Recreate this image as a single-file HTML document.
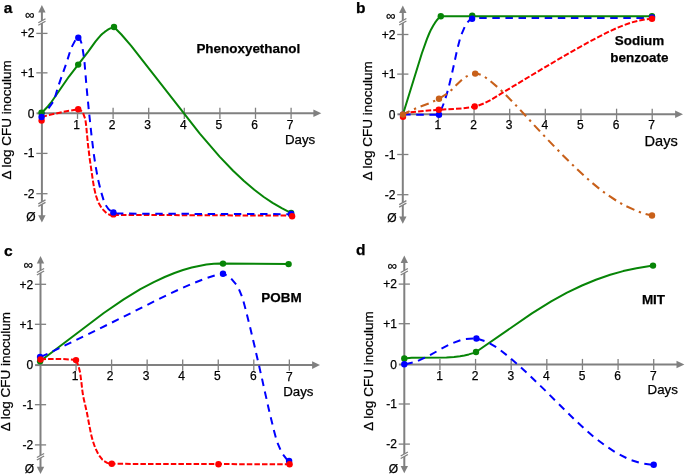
<!DOCTYPE html>
<html><head><meta charset="utf-8"><title>Figure</title>
<style>
html,body{margin:0;padding:0;background:#fff;}
svg{display:block;}
text{font-family:"Liberation Sans",Arial,Helvetica,sans-serif;fill:#000;stroke:#000;stroke-width:0.25px;}
.t{font-size:12px;}
.i{font-size:13px;}
.d{font-size:13.3px;}
.y{font-size:13.5px;}
.h{font-size:13.45px;font-weight:bold;}
.p{font-size:15.5px;font-weight:bold;}
</style></head><body>
<svg width="685" height="474" viewBox="0 0 685 474">
<rect width="685" height="474" fill="#fff"/>
<text x="3.7" y="13.3" class="p">a</text>
<line x1="41.9" y1="10.1" x2="41.9" y2="217.5" stroke="#808080" stroke-width="2.0"/>
<polygon points="41.9,5.1 38.199999999999996,12.399999999999999 45.6,12.399999999999999" fill="#808080"/>
<polygon points="41.9,222.5 38.199999999999996,215.2 45.6,215.2" fill="#808080"/>
<line x1="41.9" y1="113.3" x2="316.3" y2="113.3" stroke="#808080" stroke-width="2.0"/>
<polygon points="321.3,113.3 313.40000000000003,109.5 313.40000000000003,117.1" fill="#808080"/>
<rect x="39.9" y="20.799999999999997" width="4" height="2.4" fill="#fff" transform="rotate(-30 41.9 21.999999999999996)"/>
<line x1="38.3" y1="22.749999999999996" x2="45.5" y2="18.749999999999996" stroke="#808080" stroke-width="1.3"/>
<line x1="38.3" y1="25.249999999999996" x2="45.5" y2="21.249999999999996" stroke="#808080" stroke-width="1.3"/>
<rect x="39.9" y="201.90000000000003" width="4" height="2.4" fill="#fff" transform="rotate(-30 41.9 203.10000000000002)"/>
<line x1="38.3" y1="203.85000000000002" x2="45.5" y2="199.85000000000002" stroke="#808080" stroke-width="1.3"/>
<line x1="38.3" y1="206.35000000000002" x2="45.5" y2="202.35000000000002" stroke="#808080" stroke-width="1.3"/>
<line x1="36.3" y1="33.4" x2="47.5" y2="33.4" stroke="#808080" stroke-width="1.3"/>
<text x="34.5" y="37.4" text-anchor="end" class="t">+2</text>
<line x1="36.3" y1="72.85" x2="47.5" y2="72.85" stroke="#808080" stroke-width="1.3"/>
<text x="34.5" y="76.85" text-anchor="end" class="t">+1</text>
<line x1="36.5" y1="113.3" x2="41.9" y2="113.3" stroke="#808080" stroke-width="2.0"/>
<text x="34.5" y="117.8" text-anchor="end" class="t">0</text>
<line x1="36.3" y1="153.4" x2="47.5" y2="153.4" stroke="#808080" stroke-width="1.3"/>
<text x="34.5" y="157.4" text-anchor="end" class="t">-1</text>
<line x1="36.3" y1="193.7" x2="47.5" y2="193.7" stroke="#808080" stroke-width="1.3"/>
<text x="34.5" y="197.7" text-anchor="end" class="t">-2</text>
<line x1="77.5" y1="107.7" x2="77.5" y2="118.89999999999999" stroke="#808080" stroke-width="1.3"/>
<text x="76.50" y="129.00" text-anchor="middle" class="t">1</text>
<line x1="113.1" y1="107.7" x2="113.1" y2="118.89999999999999" stroke="#808080" stroke-width="1.3"/>
<text x="112.10" y="129.00" text-anchor="middle" class="t">2</text>
<line x1="148.70000000000002" y1="107.7" x2="148.70000000000002" y2="118.89999999999999" stroke="#808080" stroke-width="1.3"/>
<text x="147.70" y="129.00" text-anchor="middle" class="t">3</text>
<line x1="184.3" y1="107.7" x2="184.3" y2="118.89999999999999" stroke="#808080" stroke-width="1.3"/>
<text x="183.30" y="129.00" text-anchor="middle" class="t">4</text>
<line x1="219.9" y1="107.7" x2="219.9" y2="118.89999999999999" stroke="#808080" stroke-width="1.3"/>
<text x="218.90" y="129.00" text-anchor="middle" class="t">5</text>
<line x1="255.50000000000003" y1="107.7" x2="255.50000000000003" y2="118.89999999999999" stroke="#808080" stroke-width="1.3"/>
<text x="254.50" y="129.00" text-anchor="middle" class="t">6</text>
<line x1="291.1" y1="107.7" x2="291.1" y2="118.89999999999999" stroke="#808080" stroke-width="1.3"/>
<text x="290.10" y="129.00" text-anchor="middle" class="t">7</text>
<text x="300.1" y="144.3" text-anchor="middle" class="d" style="font-size:13.3px">Days</text>
<text x="29.9" y="19.1" text-anchor="middle" class="i">∞</text>
<text x="30.9" y="220.7" text-anchor="middle" class="t">Ø</text>
<text transform="translate(10.8,119.8) rotate(-90)" text-anchor="middle" class="y">Δ log CFU inoculum</text>
<text x="248.3" y="52.5" text-anchor="middle" class="h">Phenoxyethanol</text>
<path d="M41.5,117.0 L46.9,115.6 M48.9,115.1 L54.3,113.8 M56.3,113.4 L61.7,112.2 M63.7,111.8 L69.1,110.8 M71.2,110.4 L76.6,109.5 M78.2,109.3 L79.7,109.9 L81.0,110.7 L81.8,111.5 M83.1,113.1 L85.0,118.3 M85.5,120.3 L86.2,125.8 M86.4,127.9 L86.9,133.4 M87.1,135.4 L87.6,141.0 M87.8,143.0 L88.4,148.5 M88.7,150.5 L89.4,156.0 M89.6,158.1 L90.4,163.6 M90.7,165.6 L91.5,171.1 M91.8,173.1 L92.6,178.6 M92.9,180.6 L93.8,186.1 M94.2,188.1 L95.4,193.6 M95.9,195.5 L97.7,200.8 M98.5,202.7 L101.3,207.5 M102.5,209.1 L106.4,213.0 M108.2,214.1 L110.2,215.0 L111.8,215.2 L113.4,215.1 M113.4,214.9 L118.9,214.9 M121.0,214.9 L126.5,215.0 M128.6,215.0 L134.1,215.0 M136.2,215.0 L141.7,215.0 M143.8,215.0 L149.3,215.0 M151.4,215.0 L156.9,215.1 M159.0,215.1 L164.5,215.1 M166.6,215.1 L172.1,215.1 M174.2,215.1 L179.7,215.2 M181.8,215.2 L187.3,215.2 M189.4,215.2 L194.9,215.2 M197.0,215.2 L202.5,215.2 M204.6,215.3 L210.1,215.3 M212.2,215.3 L217.7,215.3 M219.8,215.3 L225.3,215.3 M227.4,215.3 L232.9,215.4 M235.0,215.4 L240.5,215.4 M242.6,215.4 L248.1,215.4 M250.2,215.4 L255.7,215.5 M257.8,215.5 L263.3,215.5 M265.4,215.5 L270.9,215.5 M273.0,215.5 L278.5,215.5 M280.6,215.6 L286.1,215.6 M288.2,215.6 L292.0,215.6" fill="none" stroke="#FF0000" stroke-width="2.0" stroke-linejoin="round"/>
<path d="M41.5,113.0 L44.7,109.8 L47.8,106.5 L51.6,101.8 L68.8,76.8 L88.2,51.6 L95.4,41.6 L98.3,38.1 L100.3,35.8 L102.4,33.8 L104.7,31.9 L107.1,30.2 L109.7,28.7 L111.1,28.1 L112.5,27.5 L114.0,27.0 L121.4,34.5 L131.2,45.9 L199.8,133.7 L219.6,156.6 L233.1,170.8 L244.0,181.1 L254.3,189.8 L263.8,197.0 L272.6,202.8 L281.7,208.2 L289.8,212.3 L291.2,213.0" fill="none" stroke="#078507" stroke-width="2.0" stroke-linejoin="round"/>
<path d="M41.5,116.5 L44.7,112.5 M48.5,108.3 L52.9,102.2 M55.1,97.0 L57.2,89.8 M58.9,84.4 L61.4,77.2 M63.3,71.9 L65.8,64.8 M67.6,59.4 L69.8,52.2 M71.8,46.9 L75.1,40.6 L75.3,40.3 M78.4,37.8 L79.5,38.7 L80.3,39.9 L81.6,43.5 M82.7,49.1 L83.8,56.5 M84.5,62.1 L85.1,69.6 M85.6,75.3 L86.2,82.8 M86.7,88.4 L87.4,95.9 M88.0,101.6 L88.7,109.1 M89.3,114.7 L90.1,122.2 M90.7,127.8 L91.5,135.3 M92.2,141.0 L93.1,148.4 M93.8,154.1 L94.9,161.5 M95.8,167.1 L97.1,174.5 M98.2,180.1 L100.0,187.4 M101.4,192.9 L103.6,200.1 M105.8,205.3 L108.4,209.0 L110.7,210.9 M116.0,213.1 L118.0,213.6 L123.4,213.6 M129.1,213.6 L136.5,213.7 M142.2,213.7 L149.6,213.7 M155.3,213.7 L162.7,213.8 M168.4,213.8 L175.8,213.8 M181.5,213.8 L188.9,213.8 M194.6,213.9 L202.0,213.9 M207.7,213.9 L215.1,213.9 M220.8,214.0 L228.2,214.0 M233.9,214.0 L241.3,214.0 M247.0,214.0 L254.4,214.1 M260.1,214.1 L267.5,214.1 M273.2,214.1 L280.6,214.2 M286.3,214.2 L291.1,214.2" fill="none" stroke="#0000FF" stroke-width="2.0" stroke-linejoin="round"/>
<circle cx="41.6" cy="120.6" r="3.2" fill="#FF0000"/>
<circle cx="41.5" cy="112.7" r="3.2" fill="#078507"/>
<circle cx="41.6" cy="117" r="3.2" fill="#0000FF"/>
<circle cx="78.2" cy="64.6" r="3.2" fill="#078507"/>
<circle cx="114" cy="27" r="3.2" fill="#078507"/>
<circle cx="78.3" cy="37.8" r="3.2" fill="#0000FF"/>
<circle cx="78.2" cy="109.3" r="3.2" fill="#FF0000"/>
<circle cx="113.4" cy="214.4" r="3.2" fill="#FF0000"/>
<circle cx="113.4" cy="212.4" r="3.2" fill="#0000FF"/>
<circle cx="291.1" cy="213" r="3.2" fill="#078507"/>
<circle cx="291.1" cy="214" r="3.2" fill="#0000FF"/>
<circle cx="292.1" cy="216.2" r="3.2" fill="#FF0000"/>
<text x="356" y="12.9" class="p">b</text>
<line x1="402.8" y1="10.6" x2="402.8" y2="218.7" stroke="#808080" stroke-width="2.0"/>
<polygon points="402.8,5.6 399.1,12.899999999999999 406.5,12.899999999999999" fill="#808080"/>
<polygon points="402.8,223.7 399.1,216.39999999999998 406.5,216.39999999999998" fill="#808080"/>
<line x1="402.8" y1="114.3" x2="678" y2="114.3" stroke="#808080" stroke-width="2.0"/>
<polygon points="683,114.3 675.1,110.5 675.1,118.1" fill="#808080"/>
<rect x="400.8" y="20.499999999999993" width="4" height="2.4" fill="#fff" transform="rotate(-30 402.8 21.699999999999992)"/>
<line x1="399.2" y1="22.449999999999992" x2="406.40000000000003" y2="18.449999999999992" stroke="#808080" stroke-width="1.3"/>
<line x1="399.2" y1="24.949999999999992" x2="406.40000000000003" y2="20.949999999999992" stroke="#808080" stroke-width="1.3"/>
<rect x="400.8" y="202.7" width="4" height="2.4" fill="#fff" transform="rotate(-30 402.8 203.89999999999998)"/>
<line x1="399.2" y1="204.64999999999998" x2="406.40000000000003" y2="200.64999999999998" stroke="#808080" stroke-width="1.3"/>
<line x1="399.2" y1="207.14999999999998" x2="406.40000000000003" y2="203.14999999999998" stroke="#808080" stroke-width="1.3"/>
<line x1="397.2" y1="34.5" x2="408.40000000000003" y2="34.5" stroke="#808080" stroke-width="1.3"/>
<text x="395.40000000000003" y="38.5" text-anchor="end" class="t">+2</text>
<line x1="397.2" y1="74.1" x2="408.40000000000003" y2="74.1" stroke="#808080" stroke-width="1.3"/>
<text x="395.40000000000003" y="78.1" text-anchor="end" class="t">+1</text>
<line x1="397.40000000000003" y1="114.3" x2="402.8" y2="114.3" stroke="#808080" stroke-width="2.0"/>
<text x="395.40000000000003" y="118.8" text-anchor="end" class="t">0</text>
<line x1="397.2" y1="154.5" x2="408.40000000000003" y2="154.5" stroke="#808080" stroke-width="1.3"/>
<text x="395.40000000000003" y="158.5" text-anchor="end" class="t">-1</text>
<line x1="397.2" y1="194.7" x2="408.40000000000003" y2="194.7" stroke="#808080" stroke-width="1.3"/>
<text x="395.40000000000003" y="198.7" text-anchor="end" class="t">-2</text>
<line x1="438.43" y1="108.7" x2="438.43" y2="119.89999999999999" stroke="#808080" stroke-width="1.3"/>
<text x="437.93" y="129.40" text-anchor="middle" class="t">1</text>
<line x1="474.06" y1="108.7" x2="474.06" y2="119.89999999999999" stroke="#808080" stroke-width="1.3"/>
<text x="473.56" y="129.40" text-anchor="middle" class="t">2</text>
<line x1="509.69000000000005" y1="108.7" x2="509.69000000000005" y2="119.89999999999999" stroke="#808080" stroke-width="1.3"/>
<text x="509.19" y="129.40" text-anchor="middle" class="t">3</text>
<line x1="545.32" y1="108.7" x2="545.32" y2="119.89999999999999" stroke="#808080" stroke-width="1.3"/>
<text x="544.82" y="129.40" text-anchor="middle" class="t">4</text>
<line x1="580.95" y1="108.7" x2="580.95" y2="119.89999999999999" stroke="#808080" stroke-width="1.3"/>
<text x="580.45" y="129.40" text-anchor="middle" class="t">5</text>
<line x1="616.58" y1="108.7" x2="616.58" y2="119.89999999999999" stroke="#808080" stroke-width="1.3"/>
<text x="616.08" y="129.40" text-anchor="middle" class="t">6</text>
<line x1="652.21" y1="108.7" x2="652.21" y2="119.89999999999999" stroke="#808080" stroke-width="1.3"/>
<text x="651.71" y="129.40" text-anchor="middle" class="t">7</text>
<text x="661.21" y="146.1" text-anchor="middle" class="d" style="font-size:14.6px">Days</text>
<text x="390.8" y="19.6" text-anchor="middle" class="i">∞</text>
<text x="391.8" y="221.89999999999998" text-anchor="middle" class="t">Ø</text>
<text transform="translate(372.3,120.9) rotate(-90)" text-anchor="middle" class="y">Δ log CFU inoculum</text>
<text x="639.5" y="45.0" text-anchor="middle" class="h">Sodium</text>
<text x="639.4" y="61.5" text-anchor="middle" class="h">benzoate</text>
<path d="M403.1,114.6 L410.6,114.6 M416.2,114.7 L423.8,114.7 M429.4,114.7 L437.0,114.8 M440.9,110.5 L443.7,103.5 M445.5,98.1 L447.7,90.9 M449.1,85.4 L450.9,78.1 M452.2,72.5 L453.8,65.2 M455.0,59.7 L456.6,52.3 M457.9,46.8 L459.8,39.5 M461.6,34.1 L464.6,27.2 M467.5,22.4 L469.3,20.3 L470.5,19.4 L472.1,18.8 M472.1,18.8 L473.6,18.6 M479.2,18.1 L486.7,18.0 M492.3,18.0 L499.8,18.0 M505.4,18.0 L512.9,18.0 M518.5,18.0 L526.0,18.0 M531.6,18.0 L539.1,18.0 M544.7,18.0 L552.2,18.0 M557.8,18.0 L565.3,18.0 M570.9,18.0 L578.4,18.0 M584.0,18.0 L591.5,18.0 M597.1,18.0 L604.6,18.0 M610.2,18.0 L617.7,18.0 M623.3,18.0 L630.8,18.0 M636.4,18.0 L643.9,18.0 M649.5,18.0 L652.5,18.0" fill="none" stroke="#0000FF" stroke-width="2.0" stroke-linejoin="round"/>
<path d="M403.0,113.4 L408.5,112.6 M410.5,112.3 L416.0,111.7 M418.1,111.4 L423.6,110.9 M425.6,110.7 L431.2,110.3 M433.2,110.2 L438.8,109.8 M440.8,109.7 L446.3,109.3 M448.4,109.2 L453.9,108.9 M456.0,108.8 L461.5,108.4 M463.6,108.2 L469.1,107.6 M471.1,107.2 L476.5,106.0 M478.5,105.5 L483.7,103.5 M485.5,102.7 L490.5,100.1 M492.2,99.1 L497.0,96.2 M498.7,95.1 L503.5,92.2 M505.2,91.2 L509.9,88.3 M511.7,87.2 L516.5,84.4 M518.2,83.3 L523.0,80.4 M524.7,79.4 L529.5,76.5 M531.2,75.5 L536.0,72.6 M537.8,71.6 L542.5,68.7 M544.3,67.7 L549.1,64.8 M550.8,63.8 L555.6,61.0 M557.4,59.9 L562.2,57.1 M563.9,56.1 L568.7,53.3 M570.5,52.3 L575.3,49.6 M577.1,48.6 L582.0,45.9 M583.8,44.9 L588.6,42.2 M590.5,41.2 L595.4,38.6 M597.2,37.7 L602.1,35.1 M603.9,34.2 L608.9,31.7 M610.7,30.8 L615.8,28.5 M617.7,27.7 L622.8,25.6 M624.7,24.9 L630.0,23.0 M631.9,22.4 L637.3,21.0 M639.3,20.5 L644.7,19.5 M646.8,19.3 L652.0,18.8" fill="none" stroke="#FF0000" stroke-width="2.0" stroke-linejoin="round"/>
<path d="M403.0,114.3 L421.8,53.5 L426.9,39.1 L429.2,33.5 L431.1,29.4 L433.3,25.5 L434.9,22.9 L436.6,20.5 L438.6,18.2 L439.6,17.2 L440.8,16.2 L652.0,16.3" fill="none" stroke="#078507" stroke-width="2.0" stroke-linejoin="round"/>
<path d="M403.0,114.5 L409.6,111.1 M414.0,109.2 L416.1,108.3 M420.6,106.5 L428.7,103.4 M433.1,101.5 L435.2,100.6 M439.5,98.4 L446.8,93.8 M450.6,90.8 L452.3,89.2 M455.6,85.8 L461.9,79.8 M465.7,76.9 L467.7,75.8 M472.2,74.0 L475.4,73.6 L478.2,73.9 L480.7,74.7 M484.9,77.0 L486.8,78.3 M490.6,81.3 L497.2,86.9 M500.8,90.1 L502.4,91.7 M505.9,95.0 L512.0,101.2 M515.3,104.7 L516.9,106.3 M520.2,109.9 L526.1,116.3 M529.3,119.8 L530.9,121.5 M534.1,125.1 L540.0,131.4 M543.3,134.9 L544.9,136.6 M548.2,140.1 L554.2,146.4 M557.6,149.8 L559.2,151.5 M562.5,154.9 L568.7,161.0 M572.1,164.4 L573.8,166.0 M577.2,169.3 L583.6,175.2 M587.2,178.5 L588.9,180.0 M592.5,183.1 L599.2,188.6 M603.0,191.6 L604.9,192.9 M608.8,195.7 L616.1,200.5 M620.2,203.0 L622.2,204.1 M626.4,206.3 L634.4,209.9 M638.8,211.7 L641.0,212.4 M645.6,213.9 L652.0,215.5" fill="none" stroke="#C8601A" stroke-width="2.1" stroke-linejoin="round"/>
<circle cx="440.8" cy="16.2" r="3.2" fill="#078507"/>
<circle cx="472.2" cy="15.8" r="3.2" fill="#078507"/>
<circle cx="652" cy="16.3" r="3.2" fill="#078507"/>
<circle cx="403" cy="114.6" r="3.2" fill="#0000FF"/>
<circle cx="439" cy="114.8" r="3.2" fill="#0000FF"/>
<circle cx="472.1" cy="18.8" r="3.2" fill="#0000FF"/>
<circle cx="652" cy="17.5" r="3.2" fill="#0000FF"/>
<circle cx="403" cy="116.8" r="3.2" fill="#FF0000"/>
<circle cx="438.8" cy="109.8" r="3.2" fill="#FF0000"/>
<circle cx="474.7" cy="106.5" r="3.2" fill="#FF0000"/>
<circle cx="652" cy="18.8" r="3.2" fill="#FF0000"/>
<circle cx="403" cy="114.5" r="3.2" fill="#C8601A"/>
<circle cx="439" cy="98.7" r="3.2" fill="#C8601A"/>
<circle cx="475.2" cy="73.6" r="3.2" fill="#C8601A"/>
<circle cx="652" cy="215.5" r="3.2" fill="#C8601A"/>
<text x="4" y="256.2" class="p">c</text>
<line x1="40.5" y1="261.1" x2="40.5" y2="469" stroke="#808080" stroke-width="2.0"/>
<polygon points="40.5,256.1 36.8,263.40000000000003 44.2,263.40000000000003" fill="#808080"/>
<polygon points="40.5,474 36.8,466.7 44.2,466.7" fill="#808080"/>
<line x1="40.5" y1="365.1" x2="315" y2="365.1" stroke="#808080" stroke-width="2.0"/>
<polygon points="320,365.1 312.1,361.3 312.1,368.90000000000003" fill="#808080"/>
<rect x="38.5" y="270.6" width="4" height="2.4" fill="#fff" transform="rotate(-30 40.5 271.8)"/>
<line x1="36.9" y1="272.55" x2="44.1" y2="268.55" stroke="#808080" stroke-width="1.3"/>
<line x1="36.9" y1="275.05" x2="44.1" y2="271.05" stroke="#808080" stroke-width="1.3"/>
<rect x="38.5" y="455.50000000000006" width="4" height="2.4" fill="#fff" transform="rotate(-30 40.5 456.70000000000005)"/>
<line x1="36.9" y1="457.45000000000005" x2="44.1" y2="453.45000000000005" stroke="#808080" stroke-width="1.3"/>
<line x1="36.9" y1="459.95000000000005" x2="44.1" y2="455.95000000000005" stroke="#808080" stroke-width="1.3"/>
<line x1="34.9" y1="284.3" x2="46.1" y2="284.3" stroke="#808080" stroke-width="1.3"/>
<text x="33.1" y="288.8" text-anchor="end" class="t">+2</text>
<line x1="34.9" y1="324.3" x2="46.1" y2="324.3" stroke="#808080" stroke-width="1.3"/>
<text x="33.1" y="328.8" text-anchor="end" class="t">+1</text>
<line x1="35.1" y1="365.1" x2="40.5" y2="365.1" stroke="#808080" stroke-width="2.0"/>
<text x="33.1" y="369.0" text-anchor="end" class="t">0</text>
<line x1="34.9" y1="404.7" x2="46.1" y2="404.7" stroke="#808080" stroke-width="1.3"/>
<text x="33.1" y="409.2" text-anchor="end" class="t">-1</text>
<line x1="34.9" y1="444.9" x2="46.1" y2="444.9" stroke="#808080" stroke-width="1.3"/>
<text x="33.1" y="449.4" text-anchor="end" class="t">-2</text>
<line x1="76.05" y1="359.5" x2="76.05" y2="370.70000000000005" stroke="#808080" stroke-width="1.3"/>
<text x="75.05" y="380.00" text-anchor="middle" class="t">1</text>
<line x1="111.6" y1="359.5" x2="111.6" y2="370.70000000000005" stroke="#808080" stroke-width="1.3"/>
<text x="110.20" y="380.00" text-anchor="middle" class="t">2</text>
<line x1="147.14999999999998" y1="359.5" x2="147.14999999999998" y2="370.70000000000005" stroke="#808080" stroke-width="1.3"/>
<text x="146.15" y="380.00" text-anchor="middle" class="t">3</text>
<line x1="182.7" y1="359.5" x2="182.7" y2="370.70000000000005" stroke="#808080" stroke-width="1.3"/>
<text x="181.70" y="380.00" text-anchor="middle" class="t">4</text>
<line x1="218.25" y1="359.5" x2="218.25" y2="370.70000000000005" stroke="#808080" stroke-width="1.3"/>
<text x="217.25" y="380.00" text-anchor="middle" class="t">5</text>
<line x1="253.79999999999998" y1="359.5" x2="253.79999999999998" y2="370.70000000000005" stroke="#808080" stroke-width="1.3"/>
<text x="253.40" y="380.30" text-anchor="middle" class="t">6</text>
<line x1="289.34999999999997" y1="359.5" x2="289.34999999999997" y2="370.70000000000005" stroke="#808080" stroke-width="1.3"/>
<text x="289.35" y="380.60" text-anchor="middle" class="t">7</text>
<text x="298.34999999999997" y="396.3" text-anchor="middle" class="d" style="font-size:13.3px">Days</text>
<text x="28.5" y="269.1" text-anchor="middle" class="i">∞</text>
<text x="29.5" y="473.1" text-anchor="middle" class="t">Ø</text>
<text transform="translate(10.3,371.7) rotate(-90)" text-anchor="middle" class="y">Δ log CFU inoculum</text>
<text x="281.5" y="301.8" text-anchor="middle" class="h">POBM</text>
<path d="M40.1,361.2 L103.8,313.0 L123.7,299.4 L140.4,289.2 L153.8,282.1 L164.7,277.0 L174.5,273.0 L183.0,270.0 L191.7,267.5 L199.0,265.9 L206.4,264.6 L213.9,263.8 L220.0,263.6 L288.6,264.1" fill="none" stroke="#078507" stroke-width="2.0" stroke-linejoin="round"/>
<path d="M40.6,356.8 L47.5,353.8 M52.6,351.4 L59.4,348.1 M64.5,345.6 L71.3,342.3 M76.4,339.9 L83.1,336.6 M88.3,334.1 L95.0,330.8 M100.1,328.3 L106.9,325.0 M112.0,322.5 L118.7,319.2 M123.8,316.6 L130.5,313.3 M135.6,310.7 L142.3,307.3 M147.4,304.8 L154.1,301.4 M159.2,298.9 L166.0,295.6 M171.1,293.1 L177.9,290.0 M183.1,287.6 L190.0,284.7 M195.2,282.5 L202.2,279.7 M207.6,277.8 L214.7,275.5 M220.3,274.2 L223.0,273.7 M223.0,273.7 L226.6,275.4 M231.2,278.7 L236.1,284.4 M239.0,289.3 L241.8,296.2 M243.5,301.6 L245.5,308.9 M246.9,314.4 L248.7,321.7 M250.1,327.2 L251.8,334.5 M253.1,340.0 L254.9,347.4 M256.1,352.9 L257.8,360.2 M259.1,365.8 L260.7,373.1 M262.0,378.6 L263.6,386.0 M264.8,391.5 L266.5,398.9 M267.7,404.4 L269.4,411.7 M270.7,417.3 L272.5,424.6 M273.8,430.1 L275.8,437.4 M277.5,442.8 L280.4,449.7 M283.1,454.7 L286.6,459.2 L288.0,460.3" fill="none" stroke="#0000FF" stroke-width="2.0" stroke-linejoin="round"/>
<path d="M40.5,359.5 L46.0,359.1 M48.1,359.0 L53.6,358.9 M55.7,358.9 L61.2,359.0 M63.3,359.1 L68.8,359.4 M70.9,359.6 L76.0,360.1 M76.0,360.1 L78.2,365.2 M78.8,367.2 L80.1,372.6 M80.4,374.6 L81.1,380.1 M81.4,382.1 L82.0,387.6 M82.2,389.7 L83.0,395.2 M83.4,397.2 L84.6,402.6 M85.1,404.6 L86.3,410.0 M86.8,412.0 L87.8,417.4 M88.2,419.5 L89.2,424.9 M89.6,426.9 L90.7,432.4 M91.1,434.4 L92.5,439.8 M93.1,441.7 L94.9,447.0 M95.7,448.9 L98.1,453.8 M99.2,455.6 L102.4,459.7 L102.7,459.9 M104.2,461.2 L107.2,462.9 L109.2,463.5 M111.3,463.8 L111.8,463.8 M111.8,463.8 L115.5,463.8 M117.6,463.8 L123.1,463.8 M125.2,463.8 L130.7,463.9 M132.8,463.9 L138.3,463.9 M140.4,463.9 L145.9,463.9 M148.0,463.9 L153.5,463.9 M155.6,463.9 L161.1,463.9 M163.2,463.9 L168.7,464.0 M170.8,464.0 L176.3,464.0 M178.4,464.0 L183.9,464.0 M186.0,464.0 L191.5,464.0 M193.6,464.0 L199.1,464.0 M201.2,464.1 L206.7,464.1 M208.8,464.1 L214.3,464.1 M216.4,464.1 L221.9,464.1 M224.0,464.1 L229.5,464.1 M231.6,464.1 L237.1,464.2 M239.2,464.2 L244.7,464.2 M246.8,464.2 L252.3,464.2 M254.4,464.2 L259.9,464.2 M262.0,464.2 L267.5,464.2 M269.6,464.2 L275.1,464.3 M277.2,464.3 L282.7,464.3 M284.8,464.3 L289.6,464.3" fill="none" stroke="#FF0000" stroke-width="2.0" stroke-linejoin="round"/>
<circle cx="40.1" cy="361.2" r="3.2" fill="#078507"/>
<circle cx="223" cy="263.6" r="3.2" fill="#078507"/>
<circle cx="288.6" cy="264.1" r="3.2" fill="#078507"/>
<circle cx="40.1" cy="357" r="3.2" fill="#0000FF"/>
<circle cx="223" cy="273.7" r="3.2" fill="#0000FF"/>
<circle cx="289.1" cy="461" r="3.2" fill="#0000FF"/>
<circle cx="40.5" cy="359.5" r="3.2" fill="#FF0000"/>
<circle cx="76" cy="360.1" r="3.2" fill="#FF0000"/>
<circle cx="111.8" cy="463.8" r="3.2" fill="#FF0000"/>
<circle cx="218.5" cy="464.3" r="3.2" fill="#FF0000"/>
<circle cx="289.6" cy="464.3" r="3.2" fill="#FF0000"/>
<text x="356" y="255.4" class="p">d</text>
<line x1="404.3" y1="260.6" x2="404.3" y2="468.2" stroke="#808080" stroke-width="2.0"/>
<polygon points="404.3,255.6 400.6,262.9 408.0,262.9" fill="#808080"/>
<polygon points="404.3,473.2 400.6,465.9 408.0,465.9" fill="#808080"/>
<line x1="404.3" y1="364.5" x2="679.4" y2="364.5" stroke="#808080" stroke-width="2.0"/>
<polygon points="684.4,364.5 676.5,360.7 676.5,368.3" fill="#808080"/>
<rect x="402.3" y="270.6" width="4" height="2.4" fill="#fff" transform="rotate(-30 404.3 271.8)"/>
<line x1="400.7" y1="272.55" x2="407.90000000000003" y2="268.55" stroke="#808080" stroke-width="1.3"/>
<line x1="400.7" y1="275.05" x2="407.90000000000003" y2="271.05" stroke="#808080" stroke-width="1.3"/>
<rect x="402.3" y="454.0" width="4" height="2.4" fill="#fff" transform="rotate(-30 404.3 455.2)"/>
<line x1="400.7" y1="455.95" x2="407.90000000000003" y2="451.95" stroke="#808080" stroke-width="1.3"/>
<line x1="400.7" y1="458.45" x2="407.90000000000003" y2="454.45" stroke="#808080" stroke-width="1.3"/>
<line x1="398.7" y1="284.1" x2="409.90000000000003" y2="284.1" stroke="#808080" stroke-width="1.3"/>
<text x="396.90000000000003" y="288.1" text-anchor="end" class="t">+2</text>
<line x1="398.7" y1="323.7" x2="409.90000000000003" y2="323.7" stroke="#808080" stroke-width="1.3"/>
<text x="396.90000000000003" y="327.7" text-anchor="end" class="t">+1</text>
<line x1="398.90000000000003" y1="364.5" x2="404.3" y2="364.5" stroke="#808080" stroke-width="2.0"/>
<text x="396.90000000000003" y="368.8" text-anchor="end" class="t">0</text>
<line x1="398.7" y1="404.0" x2="409.90000000000003" y2="404.0" stroke="#808080" stroke-width="1.3"/>
<text x="396.90000000000003" y="408.0" text-anchor="end" class="t">-1</text>
<line x1="398.7" y1="444.1" x2="409.90000000000003" y2="444.1" stroke="#808080" stroke-width="1.3"/>
<text x="396.90000000000003" y="448.1" text-anchor="end" class="t">-2</text>
<line x1="439.93" y1="358.9" x2="439.93" y2="370.1" stroke="#808080" stroke-width="1.3"/>
<text x="439.53" y="379.80" text-anchor="middle" class="t">1</text>
<line x1="475.56" y1="358.9" x2="475.56" y2="370.1" stroke="#808080" stroke-width="1.3"/>
<text x="475.16" y="379.80" text-anchor="middle" class="t">2</text>
<line x1="511.19000000000005" y1="358.9" x2="511.19000000000005" y2="370.1" stroke="#808080" stroke-width="1.3"/>
<text x="510.79" y="379.80" text-anchor="middle" class="t">3</text>
<line x1="546.82" y1="358.9" x2="546.82" y2="370.1" stroke="#808080" stroke-width="1.3"/>
<text x="546.42" y="379.80" text-anchor="middle" class="t">4</text>
<line x1="582.45" y1="358.9" x2="582.45" y2="370.1" stroke="#808080" stroke-width="1.3"/>
<text x="582.05" y="379.80" text-anchor="middle" class="t">5</text>
<line x1="618.08" y1="358.9" x2="618.08" y2="370.1" stroke="#808080" stroke-width="1.3"/>
<text x="617.68" y="379.80" text-anchor="middle" class="t">6</text>
<line x1="653.71" y1="358.9" x2="653.71" y2="370.1" stroke="#808080" stroke-width="1.3"/>
<text x="653.31" y="379.80" text-anchor="middle" class="t">7</text>
<text x="662.71" y="394.4" text-anchor="middle" class="d" style="font-size:13.3px">Days</text>
<text x="392.3" y="269.6" text-anchor="middle" class="i">∞</text>
<text x="393.3" y="472.8" text-anchor="middle" class="t">Ø</text>
<text transform="translate(372.5,371) rotate(-90)" text-anchor="middle" class="y">Δ log CFU inoculum</text>
<text x="653.5" y="304" text-anchor="middle" class="h">MIT</text>
<path d="M404.3,358.5 L411.7,357.8 L446.5,357.4 L454.0,356.9 L460.0,356.2 L464.4,355.4 L468.8,354.4 L473.1,353.1 L476.0,352.0 L531.9,313.4 L551.2,301.4 L567.0,292.7 L582.0,285.5 L595.9,279.8 L610.2,274.8 L623.2,271.1 L636.5,268.2 L648.5,266.2 L653.0,265.6" fill="none" stroke="#078507" stroke-width="2.0" stroke-linejoin="round"/>
<path d="M405.3,364.2 L412.7,362.6 M418.0,360.8 L424.9,357.7 M430.0,355.1 L436.5,351.5 M441.5,348.7 L448.2,345.2 M453.3,342.9 L460.4,340.3 M465.9,339.1 L473.4,338.4 M477.4,338.7 L484.5,341.0 M489.7,343.4 L496.2,347.2 M500.8,350.5 L506.7,355.1 M511.1,358.8 L516.8,363.7 M521.0,367.5 L526.5,372.6 M530.7,376.5 L536.1,381.7 M540.2,385.6 L545.6,390.9 M549.6,394.9 L554.9,400.2 M559.0,404.2 L564.3,409.5 M568.4,413.5 L573.7,418.7 M577.8,422.6 L583.4,427.7 M587.6,431.5 L593.3,436.4 M597.8,440.0 L603.8,444.5 M608.4,447.7 L614.7,451.8 M619.7,454.6 L626.4,458.0 M631.6,460.2 L638.8,462.5 M644.3,463.8 L651.8,464.7" fill="none" stroke="#0000FF" stroke-width="2.0" stroke-linejoin="round"/>
<circle cx="404.3" cy="358.5" r="3.2" fill="#078507"/>
<circle cx="476" cy="352" r="3.2" fill="#078507"/>
<circle cx="653" cy="265.6" r="3.2" fill="#078507"/>
<circle cx="404.3" cy="364.3" r="3.2" fill="#0000FF"/>
<circle cx="476.4" cy="338.5" r="3.2" fill="#0000FF"/>
<circle cx="653.7" cy="464.8" r="3.2" fill="#0000FF"/>
</svg>
</body></html>
